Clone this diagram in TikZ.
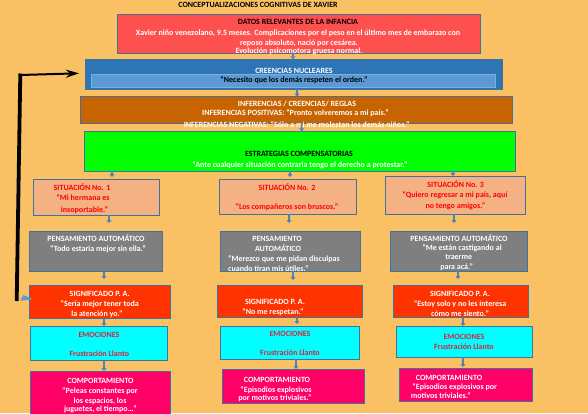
\documentclass[tikz,border=0pt]{standalone}
\usepackage{fontspec}
\setmainfont{Carlito}
\usetikzlibrary{arrows.meta}
\definecolor{bgc}{HTML}{F9C164}
\definecolor{edge}{HTML}{41719C}
\definecolor{datred}{HTML}{FF5050}
\definecolor{creblue}{HTML}{2E75B6}
\definecolor{creinner}{HTML}{5B9BD5}
\definecolor{infbrown}{HTML}{C86400}
\definecolor{estgreen}{HTML}{00FF00}
\definecolor{sitfill}{HTML}{F4B183}
\definecolor{pagray}{HTML}{7F7F7F}
\definecolor{sigred}{HTML}{FF3300}
\definecolor{emocyan}{HTML}{00FFFF}
\definecolor{compink}{HTML}{FF0066}
\definecolor{emotext}{HTML}{E0203C}
\definecolor{arrblue}{HTML}{4F81BD}
\newcommand{\tline}[5]{\node[tx,text=#4] (#1) at (#2,#3+2.5) {#5};}
\newcommand{\tlinel}[5]{\node[tx,anchor=base west,text=#4] (#1) at (#2,#3+2.5) {#5};}
\begin{document}
\begin{tikzpicture}[x=1pt,y=-1pt,
  bx/.style={draw=edge,line width=0.8pt,inner sep=0pt,outer sep=0pt},
  tx/.style={inner sep=0pt,anchor=base,font=\fontsize{8}{9.5}\selectfont\bfseries},
  sarr/.style={draw=arrblue,line width=1.5pt,-{Triangle[length=3pt,width=5pt]}}]
\fill[bgc] (0,0) rectangle (588,413);
\useasboundingbox (0,0) rectangle (588,413);
% boxes
\node[bx,fill=datred,minimum width=363pt,minimum height=39pt] (DATOS) at (298.5,33.5) {};
\node[bx,fill=creblue,minimum width=417pt,minimum height=30pt] (CRE) at (294,74.3) {};
\node[fill=creinner,draw=creinner!80!white,line width=0.6pt,inner sep=0pt,minimum width=404pt,minimum height=13.3pt] (CREIN) at (293.6,80.7) {};
\node[bx,fill=infbrown,minimum width=432pt,minimum height=26.6pt] (INF) at (296.1,110) {};
\node[bx,fill=estgreen,minimum width=430.3pt,minimum height=40pt] (EST) at (299.9,151.3) {};
\node[bx,fill=sitfill,minimum width=126.5pt,minimum height=36pt] (SITA) at (96.25,197) {};
\node[bx,fill=sitfill,minimum width=137pt,minimum height=35pt] (SITB) at (287.5,196.5) {};
\node[bx,fill=sitfill,minimum width=140pt,minimum height=38.3pt] (SITC) at (455.7,195.2) {};
\node[bx,fill=pagray,minimum width=133pt,minimum height=40pt] (PAA) at (95.5,251) {};
\node[bx,fill=pagray,minimum width=140pt,minimum height=40pt] (PAB) at (290,251) {};
\node[bx,fill=pagray,minimum width=137.7pt,minimum height=40pt] (PAC) at (458.9,251) {};
\node[bx,fill=sigred,minimum width=141pt,minimum height=33pt] (SIGA) at (99.5,301.5) {};
\node[bx,fill=sigred,minimum width=145pt,minimum height=32pt] (SIGB) at (289.5,301) {};
\node[bx,fill=sigred,minimum width=135pt,minimum height=32pt] (SIGC) at (460.5,301) {};
\node[bx,fill=emocyan,minimum width=137.5pt,minimum height=34.5pt] (EMOA) at (98.75,343.25) {};
\node[bx,fill=emocyan,minimum width=139pt,minimum height=33pt] (EMOB) at (289.5,342.5) {};
\node[bx,fill=emocyan,minimum width=136pt,minimum height=31pt] (EMOC) at (464,341.5) {};
\node[bx,fill=compink,minimum width=140.5pt,minimum height=45pt] (COMPA) at (100.25,393.5) {};
\node[bx,fill=compink,minimum width=142pt,minimum height=34pt] (COMPB) at (293,386) {};
\node[bx,fill=compink,minimum width=133pt,minimum height=33pt] (COMPC) at (465.5,384.5) {};
% texts
\tline{title}{258}{5}{black}{CONCEPTUALIZACIONES COGNITIVAS DE XAVIER}
\tline{d1}{298}{22.3}{black}{DATOS RELEVANTES DE LA INFANCIA}
\tline{d2}{298}{33.3}{white}{Xavier niño venezolano, 9.5 meses. Complicaciones por el peso en el último mes de embarazo con}
\tline{d3}{299}{43.3}{white}{reposo absoluto, nació por cesárea.}
\tline{d4}{299}{50.7}{white}{Evolución psicomotora gruesa normal.}
\tline{c1}{294}{71.3}{white}{CREENCIAS NUCLEARES}
\tline{c2}{294}{80}{black}{“Necesito que los demás respeten el orden.”}
\tline{i1}{297}{104}{white}{INFERENCIAS / CREENCIAS/ REGLAS}
\tline{i2}{295.5}{113.3}{white}{INFERENCIAS POSITIVAS: “Pronto volveremos a mi país.”}
\tline{i3}{296.6}{124.7}{white}{INFERENCIAS NEGATIVAS: “Sólo a mi me molestan los demás niños.”}
\tline{g1}{299}{154.3}{black}{ESTRATEGIAS COMPENSATORIAS}
\tline{g2}{300}{165.3}{white}{“Ante cualquier situación contraria tengo el derecho a protestar.”}
\tline{s11}{82}{188}{red}{SITUACIÓN No. 1}
\tline{s12}{83}{198}{red}{“Mi hermana es}
\tline{s13}{84.5}{210}{red}{insoportable.”}
\tline{s21}{287}{188}{red}{SITUACIÓN No. 2}
\tline{s22}{287}{207}{red}{“Los compañeros son bruscos.”}
\tline{s31}{455.7}{184.7}{red}{SITUACIÓN No. 3}
\tline{s32}{455}{195}{red}{“Quiero regresar a mi país, aquí}
\tline{s33}{455.5}{206}{red}{no tengo amigos.”}
\tline{p11}{96}{239}{white}{PENSAMIENTO AUTOMÁTICO}
\tline{p12}{98}{249}{white}{“Todo estaria mejor sin ella.”}
\tline{p21}{277}{239}{white}{PENSAMIENTO}
\tline{p22}{278}{249}{white}{AUTOMÁTICO}
\tlinel{p23}{228}{259}{white}{“Merezco que me pidan disculpas}
\tlinel{p24}{228}{269}{white}{cuando tiran mis útiles.”}
\tline{p31}{459}{239}{white}{PENSAMIENTO AUTOMÁTICO}
\tline{p32}{462}{248}{white}{“Me están castigando al}
\tline{p33}{458.7}{257}{white}{traerme}
\tline{p34}{456.7}{267}{white}{para acá.”}
\tline{q11}{99.7}{294}{white}{SIGNIFICADO P. A.}
\tline{q12}{99.7}{304}{white}{“Sería mejor tener toda}
\tline{q13}{97}{314}{white}{la atención yo.”}
\tline{q21}{275}{302}{white}{SIGNIFICADO P. A.}
\tline{q22}{273}{312}{white}{“No me respetan.”}
\tline{q31}{460}{294}{white}{SIGNIFICADO P. A.}
\tline{q32}{460}{304}{white}{“Estoy solo y no les interesa}
\tline{q33}{460}{314}{white}{cómo me siento.”}
\tline{e11}{99}{335}{emotext}{EMOCIONES}
\tline{e12}{99.3}{354}{emotext}{Frustración Llanto}
\tline{e21}{290}{334}{emotext}{EMOCIONES}
\tline{e22}{290}{353}{emotext}{Frustración Llanto}
\tline{e31}{464}{337}{emotext}{EMOCIONES}
\tline{e32}{464}{346.7}{emotext}{Frustración Llanto}
\tline{m11}{100.5}{381}{white}{COMPORTAMIENTO}
\tline{m12}{100}{391}{white}{“Peleas constantes por}
\tline{m13}{100}{400.7}{white}{los espacios, los}
\tline{m14}{100.5}{409.3}{white}{juguetes, el tiempo…”}
\tline{m21}{277}{380}{white}{COMPORTAMIENTO}
\tline{m22}{276}{390}{white}{“Episodios explosivos}
\tline{m23}{275}{398}{white}{por motivos triviales.”}
\tline{m31}{449}{377.7}{white}{COMPORTAMIENTO}
\tline{m32}{454.7}{387}{white}{“Episodios explosivos por}
\tline{m33}{440.8}{396}{white}{motivos triviales.”}
% small connectors
\draw[sarr] ([xshift=-5.5pt]DATOS.south) -- ([xshift=-1pt]CRE.north);
\draw[sarr] ([xshift=3pt]CRE.south) -- ([xshift=0.9pt]INF.north);
\draw[sarr] ([xshift=5.6pt]INF.south) -- ([xshift=1.8pt]EST.north);
\draw[sarr,shorten >=2pt] ([xshift=-187.9pt]EST.south) -- ([xshift=15.75pt]SITA.north);
\draw[sarr,shorten >=2pt] ([xshift=-9.9pt]EST.south) -- ([xshift=2.5pt]SITB.north);
\draw[sarr] ([xshift=153.1pt]EST.south) -- ([xshift=-2.7pt]SITC.north);
\draw[sarr,shorten >=8pt] ([xshift=12.75pt]SITA.south) -- ([xshift=13.5pt]PAA.north);
\draw[sarr,shorten >=8pt] ([xshift=1.5pt]SITB.south) -- ([xshift=-1pt]PAB.north);
\draw[sarr,shorten >=8pt] ([xshift=-1.7pt]SITC.south) -- ([xshift=-4.9pt]PAC.north);
\draw[sarr,shorten >=6pt] ([xshift=8.5pt]PAA.south) -- ([xshift=4.5pt]SIGA.north);
\draw[sarr,shorten >=5pt] ([xshift=3pt]PAB.south) -- ([xshift=3.5pt]SIGB.north);
\draw[sarr,shorten >=6pt] ([xshift=-0.9pt]PAC.south) -- ([xshift=-2.5pt]SIGC.north);
\draw[sarr] ([xshift=4.5pt]SIGA.south) -- ([xshift=5.25pt]EMOA.north);
\draw[sarr,shorten >=2pt] ([xshift=7.5pt]SIGB.south) -- ([xshift=7.5pt]EMOB.north);
\draw[sarr] ([xshift=2.5pt]SIGC.south) -- ([xshift=-1pt]EMOC.north);
\draw[sarr] ([xshift=5.25pt]EMOA.south) -- ([xshift=3.75pt]COMPA.north);
\draw[sarr] ([xshift=6.5pt]EMOB.south) -- ([xshift=3pt]COMPB.north);
\draw[sarr,shorten >=1pt] ([xshift=-1pt]EMOC.south) -- ([xshift=-2.5pt]COMPC.north);
% feedback arrow
\coordinate (fbA) at (16.7,301);
\coordinate (fbB) at (20.3,75);
\coordinate (fbC) at (79,73.3);
\draw[line width=3.8pt] (fbA) -- ([yshift=1.5pt]fbB);
\draw[line width=2pt,-{Stealth[length=13pt,width=8pt]}] (fbB) -- (fbC);
\fill[creinner] (20,300.7) -- (33.3,299.3) -- (23.3,295) -- cycle;
\end{tikzpicture}
\end{document}
